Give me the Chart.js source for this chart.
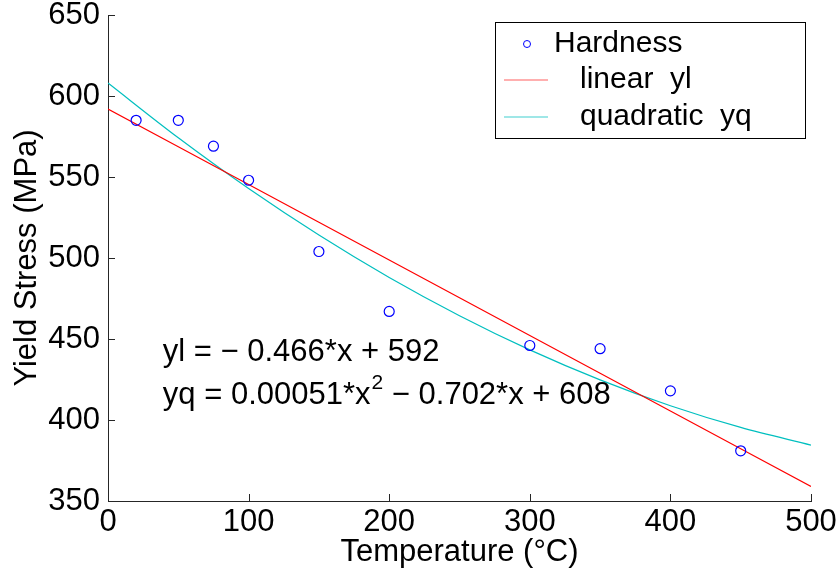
<!DOCTYPE html>
<html>
<head>
<meta charset="utf-8">
<script src="https://cdn.jsdelivr.net/npm/chart.js@4.4.0/dist/chart.umd.min.js"></script>
<style>
  html, body { margin: 0; padding: 0; background: #fff; }
  #wrap { width: 840px; height: 577px; }
</style>
</head>
<body>
<div id="wrap"><canvas id="chart" width="840" height="577"></canvas></div>
<script>
// measured points
const temps = [20, 50, 75, 100, 150, 200, 300, 350, 400, 450];
const hardness = [585, 585, 569, 548, 504, 467, 446, 444, 418, 381];

// fitted curves
const fitX = [0, 50, 100, 150, 200, 250, 300, 350, 400, 450, 500];
const linearY = [592, 568.7, 545.4, 522.1, 498.8, 475.5, 452.2, 428.9, 405.6, 382.3, 359];
const quadY = [608, 574.2, 542.9, 514.2, 488.0, 464.4, 443.3, 424.8, 408.8, 395.4, 384.5];

const legendLabels = ['Hardness', 'linear  yl', 'quadratic  yq'];
const eqLinear = 'yl = \u2212 0.466*x + 592';
const eqQuadParts = ['yq = 0.00051*x', '2', ' \u2212 0.702*x + 608'];

const FONT = '"Liberation Sans", Arial, Helvetica, sans-serif';
Chart.defaults.font.family = FONT;
Chart.defaults.font.size = 31;
Chart.defaults.color = '#000';

const toPts = (xs, ys) => xs.map((x, i) => ({ x: x, y: ys[i] }));

// inward tick marks like matlab
const innerTicks = {
    id: 'innerTicks',
    afterDraw(chart) {
        const ctx = chart.ctx;
        const { x, y } = chart.scales;
        const area = chart.chartArea;
        ctx.save();
        ctx.strokeStyle = '#262626';
        ctx.lineWidth = 1;
        ctx.beginPath();
        x.ticks.forEach(t => {
            const px = Math.round(x.getPixelForValue(t.value)) + 0.5;
            ctx.moveTo(px, area.bottom);
            ctx.lineTo(px, area.bottom - 7);
        });
        y.ticks.forEach(t => {
            const py = Math.round(y.getPixelForValue(t.value)) + 0.5;
            ctx.moveTo(area.left, py);
            ctx.lineTo(area.left + 7, py);
        });
        ctx.stroke();
        ctx.restore();
    }
};

// equations text + boxed legend
const overlay = {
    id: 'overlay',
    afterDraw(chart) {
        const ctx = chart.ctx;
        const { x, y } = chart.scales;
        ctx.save();
        ctx.fillStyle = '#000';
        ctx.textBaseline = 'middle';
        ctx.textAlign = 'left';
        ctx.font = '31px ' + FONT;

        const ex = x.getPixelForValue(39);
        ctx.fillText(eqLinear, ex, y.getPixelForValue(441.5));
        const qy = y.getPixelForValue(415);
        let cx = ex;
        ctx.fillText(eqQuadParts[0], cx, qy);
        cx += ctx.measureText(eqQuadParts[0]).width + 1;
        ctx.font = '21px ' + FONT;
        ctx.fillText(eqQuadParts[1], cx, qy - 12);
        cx += ctx.measureText(eqQuadParts[1]).width;
        ctx.font = '31px ' + FONT;
        ctx.fillText(eqQuadParts[2], cx, qy);

        // legend box
        const bx = 495, by = 22, bw = 310, bh = 116;
        ctx.fillStyle = '#fff';
        ctx.fillRect(bx, by, bw, bh);
        ctx.strokeStyle = '#000';
        ctx.lineWidth = 1;
        ctx.strokeRect(bx + 0.5, by + 0.5, bw, bh);

        const rows = [44, 80, 117];
        ctx.strokeStyle = '#0000ff';
        ctx.beginPath();
        ctx.arc(527, rows[0], 3.5, 0, Math.PI * 2);
        ctx.stroke();

        ctx.lineWidth = 1.2;
        ctx.strokeStyle = '#ff6060';
        ctx.beginPath();
        ctx.moveTo(504, rows[1]); ctx.lineTo(548, rows[1]);
        ctx.stroke();
        ctx.strokeStyle = '#40d0d0';
        ctx.beginPath();
        ctx.moveTo(504, rows[2]); ctx.lineTo(548, rows[2]);
        ctx.stroke();

        ctx.fillStyle = '#000';
        ctx.font = '30px ' + FONT;
        ctx.fillText(legendLabels[0], 554, rows[0]);
        ctx.fillText(legendLabels[1], 580, rows[1]);
        ctx.fillText(legendLabels[2], 580, rows[2]);
        ctx.restore();
    }
};

new Chart(document.getElementById('chart'), {
    type: 'scatter',
    data: {
        datasets: [
            {
                label: legendLabels[0],
                data: toPts(temps, hardness),
                showLine: false,
                pointStyle: 'circle',
                pointRadius: 5,
                pointBorderWidth: 1.2,
                pointBorderColor: '#0000ff',
                pointBackgroundColor: 'rgba(0,0,0,0)'
            },
            {
                label: legendLabels[1],
                data: toPts(fitX, linearY),
                showLine: true,
                borderColor: '#ff0000',
                borderWidth: 1.2,
                pointRadius: 0,
                tension: 0
            },
            {
                label: legendLabels[2],
                data: toPts(fitX, quadY),
                showLine: true,
                borderColor: '#00bfbf',
                borderWidth: 1.2,
                pointRadius: 0,
                cubicInterpolationMode: 'monotone'
            }
        ]
    },
    options: {
        responsive: false,
        animation: false,
        layout: { padding: { top: 15, right: 29, bottom: 0, left: 0 } },
        plugins: {
            legend: { display: false },
            tooltip: { enabled: false }
        },
        scales: {
            x: {
                type: 'linear',
                min: 0,
                max: 500,
                ticks: { stepSize: 100, padding: 3, maxRotation: 0 },
                grid: { display: false, drawTicks: false },
                border: { display: true, color: '#262626', width: 1 },
                title: { display: true, text: 'Temperature (\u00B0C)', padding: { top: 0, bottom: 6 } },
                afterFit(scale) {
                    scale.height = 76;
                    scale.paddingLeft = 0;
                    scale.paddingRight = 0;
                }
            },
            y: {
                type: 'linear',
                min: 350,
                max: 650,
                ticks: { stepSize: 50, padding: 8 },
                grid: { display: false, drawTicks: false },
                border: { display: true, color: '#262626', width: 1 },
                title: { display: true, text: 'Yield Stress (MPa)', padding: { top: 9, bottom: 0 } },
                afterFit(scale) {
                    scale.width = 108;
                    scale.paddingTop = 0;
                    scale.paddingBottom = 0;
                }
            }
        }
    },
    plugins: [innerTicks, overlay]
});
</script>
</body>
</html>
